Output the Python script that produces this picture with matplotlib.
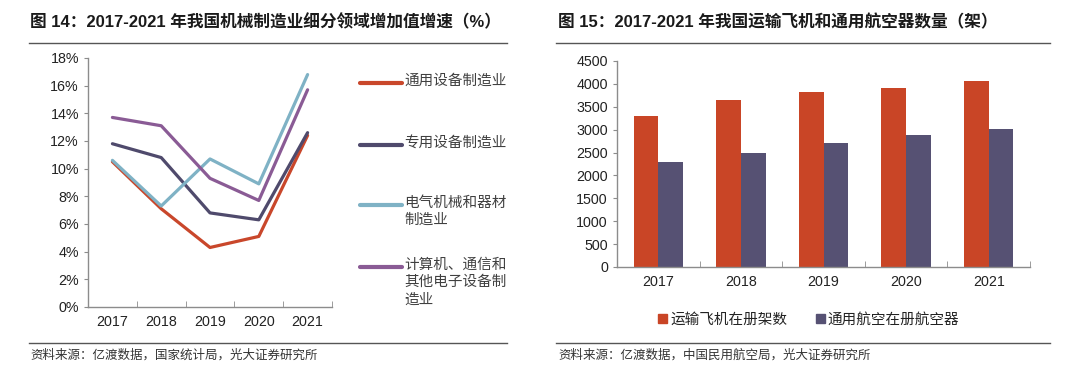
import numpy as np
import matplotlib.pyplot as plt
from matplotlib.lines import Line2D
from matplotlib.patches import Patch

plt.rcParams["font.family"] = ["Liberation Sans", "Noto Sans CJK SC", "DejaVu Sans"]

years = ["2017", "2018", "2019", "2020", "2021"]

# 图14 增速 (%)
general_equipment = [10.5, 7.1, 4.3, 5.1, 12.4]
special_equipment = [11.8, 10.8, 6.8, 6.3, 12.6]
electrical = [10.6, 7.3, 10.7, 8.9, 16.8]
computer_comm = [13.7, 13.1, 9.3, 7.7, 15.7]

line_labels = [
    "通用设备制造业",
    "专用设备制造业",
    "电气机械和器材\n制造业",
    "计算机、通信和\n其他电子设备制\n造业",
]
line_colors = ["#C9472B", "#4F4A6C", "#7FB2C5", "#8A5B95"]

# 图15 数量 (架)
transport_planes = [3296, 3639, 3818, 3903, 4054]
general_aircraft = [2297, 2495, 2707, 2892, 3018]
bar_labels = ["运输飞机在册架数", "通用航空在册航空器"]
bar_colors = ["#C94526", "#565173"]

TEXT = "#222222"
AXIS = "#8C8C8C"


def style_axis(ax):
    for side in ["top", "right"]:
        ax.spines[side].set_visible(False)
    for side in ["left", "bottom"]:
        ax.spines[side].set_color(AXIS)
        ax.spines[side].set_linewidth(1.0)
    ax.tick_params(axis="both", colors=AXIS, labelcolor=TEXT, labelsize=10.3)
    ax.tick_params(axis="x", length=0, pad=6)
    ax.tick_params(axis="y", length=3, direction="out")
    # category separators on x axis
    ax.set_xticks(np.arange(len(years) + 1) - 0.5, minor=True)
    ax.tick_params(axis="x", which="minor", length=4, direction="in", color=AXIS)


fig = plt.figure(figsize=(10.8, 3.73), dpi=100)

# ---- left chart ----
ax1 = fig.add_axes([0.0815, 0.177, 0.2259, 0.6676])
x = np.arange(len(years))
series = [general_equipment, special_equipment, electrical, computer_comm]
for values, color in zip(series, line_colors):
    ax1.plot(x, values, color=color, linewidth=2.3, solid_capstyle="round")
ax1.set_xlim(-0.5, len(years) - 0.5)
ax1.set_ylim(0, 18)
ax1.set_yticks(np.arange(0, 19, 2))
ax1.set_yticklabels([f"{v}%" for v in range(0, 19, 2)])
ax1.set_xticks(x)
ax1.set_xticklabels(years)
style_axis(ax1)

legend_y = [83, 145, 205, 267]
for label, color, yy in zip(line_labels, line_colors, legend_y):
    fy = 1 - yy / 373
    fig.add_artist(Line2D([360 / 1080, 402 / 1080], [fy, fy], color=color,
                          linewidth=3.0, solid_capstyle="round"))
    fig.text(404 / 1080, fy + 0.025, label, fontsize=10.5, color="#404040",
             va="top", ha="left", linespacing=1.3)

# ---- right chart ----
ax2 = fig.add_axes([0.5713, 0.2842, 0.3824, 0.5523])
w = 0.3
ax2.bar(x - w / 2, transport_planes, w, color=bar_colors[0], label=bar_labels[0])
ax2.bar(x + w / 2, general_aircraft, w, color=bar_colors[1], label=bar_labels[1])
ax2.set_xlim(-0.5, len(years) - 0.5)
ax2.set_ylim(0, 4500)
ax2.set_yticks(np.arange(0, 4501, 500))
ax2.set_xticks(x)
ax2.set_xticklabels(years)
style_axis(ax2)

handles = [Patch(color=c) for c in bar_colors]
fig.legend(handles, bar_labels, loc="center", bbox_to_anchor=(0.749, 1 - 320 / 373),
           ncol=2, frameon=False, fontsize=10.5, handlelength=0.6, handleheight=0.6,
           handletextpad=0.2, columnspacing=2.0, labelcolor=TEXT)

# ---- titles, rules, sources ----
fig.text(30 / 1080, 1 - 22 / 373, "图 14：2017-2021 年我国机械制造业细分领域增加值增速（%）",
         fontsize=12, fontweight="bold", color="#1a1a1a", va="center", ha="left")
fig.text(558 / 1080, 1 - 22 / 373, "图 15：2017-2021 年我国运输飞机和通用航空器数量（架）",
         fontsize=12, fontweight="bold", color="#1a1a1a", va="center", ha="left")

for x0, x1 in [(29, 507), (556, 1050)]:
    for yy in [43, 343]:
        fy = 1 - yy / 373
        fig.add_artist(Line2D([x0 / 1080, x1 / 1080], [fy, fy], color="#555555", linewidth=1.0))

fig.text(30 / 1080, 1 - 355 / 373, "资料来源：亿渡数据，国家统计局，光大证券研究所",
         fontsize=9, color="#333333", va="center", ha="left")
fig.text(558 / 1080, 1 - 355 / 373, "资料来源：亿渡数据，中国民用航空局，光大证券研究所",
         fontsize=9, color="#333333", va="center", ha="left")

fig.savefig("out.png", dpi=100)
